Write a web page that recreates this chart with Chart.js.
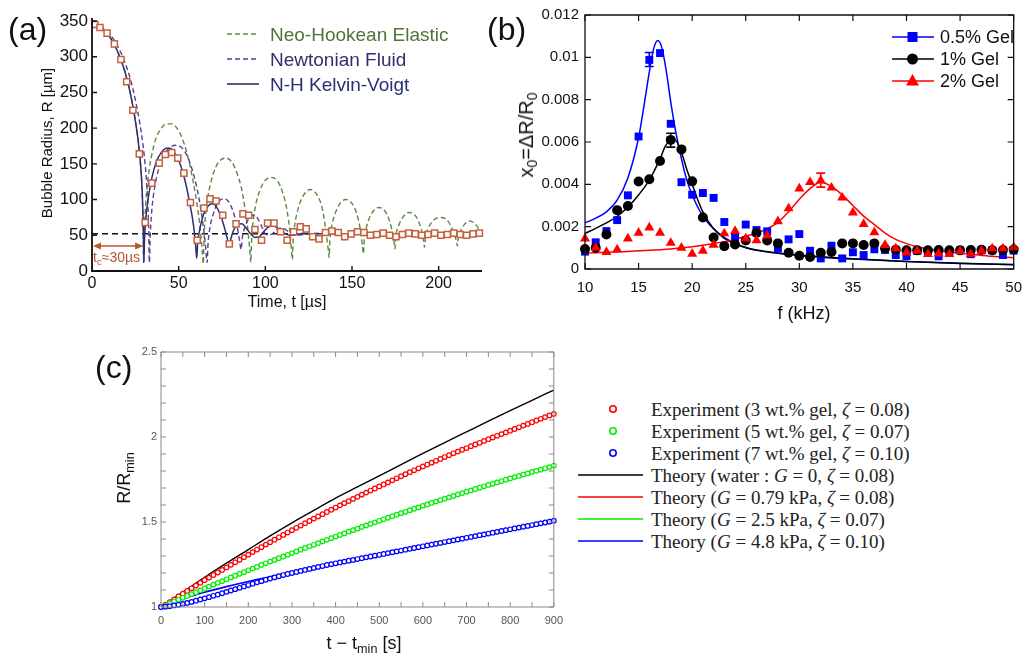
<!DOCTYPE html>
<html lang="en">
<head>
<meta charset="UTF-8">
<title>Bubble dynamics in gels</title>
<script src="https://cdn.jsdelivr.net/npm/chart.js@4.4.1/dist/chart.umd.min.js"></script>
<style>
  body { margin: 0; background: #fff; }
  #fig { position: relative; width: 1032px; height: 654px; overflow: hidden;
         font-family: 'Liberation Sans', Arial, sans-serif; color: #111; }
  canvas { position: absolute; }
  .lbl { position: absolute; white-space: nowrap; line-height: 1; }
  .panel { font-size: 32px; }
  .mid { transform: translateY(-50%); }
  .ctr { transform: translate(-50%, -50%); }
  .rot { transform: translate(-50%, -50%) rotate(-90deg); }
  .serif { font-family: 'Liberation Serif', 'Times New Roman', serif; font-size: 19px; color: #222; }
  sub { font-size: 70%; vertical-align: -0.28em; line-height: 0; }
</style>
</head>
<body>
<div id="fig">
  <canvas id="ca" width="490" height="320" style="left:0;top:0"></canvas>
  <canvas id="cb" width="542" height="320" style="left:490px;top:0"></canvas>
  <canvas id="cc" width="480" height="324" style="left:90px;top:330px"></canvas>

  <!-- panel (a) text -->
  <div class="lbl panel" style="left:8px;top:13px">(a)</div>
  <div class="lbl rot" style="left:46px;top:143px;font-size:15px">Bubble Radius, R [µm]</div>
  <div class="lbl ctr" style="left:287px;top:302px;font-size:16px">Time, t [µs]</div>
  <svg class="lbl" style="left:226px;top:26px" width="36" height="66">
    <line x1="1" y1="8" x2="33" y2="8" stroke="#5b8a42" stroke-width="1.6" stroke-dasharray="5,3"/>
    <line x1="1" y1="33" x2="33" y2="33" stroke="#5c3d99" stroke-width="1.6" stroke-dasharray="5,3"/>
    <line x1="1" y1="58" x2="33" y2="58" stroke="#2b2f73" stroke-width="1.6"/>
  </svg>
  <div class="lbl mid" style="left:270px;top:34px;font-size:19px;color:#4d7535">Neo-Hookean Elastic</div>
  <div class="lbl mid" style="left:270px;top:59px;font-size:19px;color:#3d2a6e">Newtonian Fluid</div>
  <div class="lbl mid" style="left:270px;top:84px;font-size:19px;color:#283072">N-H Kelvin-Voigt</div>
  <div class="lbl mid" style="left:93px;top:257px;font-size:14px;color:#b4552f">t<sub>c</sub>≈30µs</div>

  <!-- panel (b) text -->
  <div class="lbl panel" style="left:487px;top:13px">(b)</div>
  <div class="lbl rot" style="left:526px;top:135px;font-size:20px">x<sub>0</sub>=ΔR/R<sub>0</sub></div>
  <div class="lbl ctr" style="left:804px;top:313px;font-size:18px">f (kHz)</div>
  <svg class="lbl" style="left:890px;top:26px" width="46" height="66">
    <line x1="2" y1="11" x2="44" y2="11" stroke="#0000ff" stroke-width="1.6"/>
    <rect x="17.5" y="6" width="10" height="10" fill="#0000ff"/>
    <line x1="2" y1="33" x2="44" y2="33" stroke="#000" stroke-width="1.6"/>
    <circle cx="22.5" cy="33" r="5.5" fill="#000"/>
    <line x1="2" y1="55" x2="44" y2="55" stroke="#ff0000" stroke-width="1.6"/>
    <polygon points="22.5,48 16,59.5 29,59.5" fill="#ff0000"/>
  </svg>
  <div class="lbl mid" style="left:940px;top:37px;font-size:18px">0.5% Gel</div>
  <div class="lbl mid" style="left:940px;top:59px;font-size:18px">1% Gel</div>
  <div class="lbl mid" style="left:940px;top:81px;font-size:18px">2% Gel</div>

  <!-- panel (c) text -->
  <div class="lbl panel" style="left:95px;top:351px">(c)</div>
  <div class="lbl rot" style="left:124px;top:478px;font-size:18px">R/R<sub>min</sub></div>
  <div class="lbl ctr" style="left:364px;top:643px;font-size:18px">t − t<sub>min</sub> [s]</div>
  <svg class="lbl" style="left:570px;top:398px" width="80" height="154">
    <circle cx="43" cy="11" r="3.2" fill="none" stroke="#ff0000" stroke-width="1.6"/>
    <circle cx="43" cy="33" r="3.2" fill="none" stroke="#00ee00" stroke-width="1.6"/>
    <circle cx="43" cy="55" r="3.2" fill="none" stroke="#0000ff" stroke-width="1.6"/>
    <line x1="8" y1="77" x2="73" y2="77" stroke="#000" stroke-width="1.6"/>
    <line x1="8" y1="99" x2="73" y2="99" stroke="#ff0000" stroke-width="1.6"/>
    <line x1="8" y1="121" x2="73" y2="121" stroke="#00ee00" stroke-width="1.6"/>
    <line x1="8" y1="143" x2="73" y2="143" stroke="#0000ff" stroke-width="1.6"/>
  </svg>
  <div class="lbl mid serif" style="left:651px;top:409px">Experiment (3 wt.% gel, <i>ζ</i> = 0.08)</div>
  <div class="lbl mid serif" style="left:651px;top:431px">Experiment (5 wt.% gel, <i>ζ</i> = 0.07)</div>
  <div class="lbl mid serif" style="left:651px;top:453px">Experiment (7 wt.% gel, <i>ζ</i> = 0.10)</div>
  <div class="lbl mid serif" style="left:651px;top:475px">Theory (water : <i>G</i> = 0, <i>ζ</i> = 0.08)</div>
  <div class="lbl mid serif" style="left:651px;top:497px">Theory (<i>G</i> = 0.79 kPa, <i>ζ</i> = 0.08)</div>
  <div class="lbl mid serif" style="left:651px;top:519px">Theory (<i>G</i> = 2.5 kPa, <i>ζ</i> = 0.07)</div>
  <div class="lbl mid serif" style="left:651px;top:541px">Theory (<i>G</i> = 4.8 kPa, <i>ζ</i> = 0.10)</div>
</div>

<script>
// ---------- panel (a): bubble radius vs time, [t µs, R µm] ----------
const aTickX = [0, 50, 100, 150, 200];
const aTickY = [0, 50, 100, 150, 200, 250, 300, 350];

const aExperiment = [[1.7,345],[4.6,341],[8.7,333],[12.9,318],[16.7,296],[20,265],[23.6,225],[27.3,164],
  [30.7,68],[34.5,123],[38.8,151],[42.3,163],[46,166],[49.5,158],[53,137],[56.8,96],[60.7,43],
  [64.6,88],[68.1,101],[71.6,98],[75.4,78],[79.2,38],[83.1,66],[87.1,80],[90.4,78],[94,58],[97.8,43],
  [101.3,67],[105,67],[108.8,55],[112.6,43],[116.3,55],[120.2,62],[123.6,59],[127.3,48],[131,45],
  [134.7,54],[138.4,56],[142.1,54],[145.8,48],[149.5,52],[153.2,55],[156.9,54],[160.6,50],[164.3,51],
  [168,53],[171.7,50],[175.4,48],[179.1,51],[182.8,53],[186.5,52],[190.2,50],[193.9,51],[197.6,53],
  [201.3,50],[205,51],[208.7,53],[212.4,51],[216.1,50],[219.8,52],[223.5,53]];

const aKelvinVoigt = [[0,345],[4,342],[8,334],[12,321],[16,300],[19,279],[22,250],[24.5,218],[26.5,185],
  [28,150],[29,110],[29.6,60],[29.9,12],[30.3,45],[31,72],[32.5,103],[34.5,130],[37,152],[40,166],[43,172],
  [45,172],[47.5,166],[50,155],[53,133],[56,100],[58.5,65],[59.8,35],[60.4,18],[61,40],[62.5,62],[64.5,80],
  [67,91],[69.5,94],[72,89],[74.5,76],[76.5,60],[78,46],[79,37],[80,44],[81.5,56],[84,65],[86.5,66],
  [89,60],[91.5,52],[94,47],[96.5,48],[99,55],[102,62],[105,63],[108,58],[111,53],[114,50],[118,51],
  [122,53],[127,52],[135,52],[225,52]];

const aNeoHookean = [[0,345],[4,342],[8,334],[12,321],[16,300],[19,279],[22,250],[24.5,218],[26.5,185],
  [28,148],[29,105],[29.5,55],[29.8,10],[30.3,60],[31,95],[32.5,133],[34.5,163],[37,186],[40,200],[43,206],
  [46,206],[49,200],[52,186],[55,163],[58,130],[60.5,95],[62.5,58],[63.7,25],[64.2,10],
  [64.7,50],[65.5,78],[67,106],[69,128],[71.5,146],[74.5,156],[77.5,158],[80.5,153],[83.5,138],[86,118],
  [88,92],[89.8,60],[91,30],[91.6,12],[92.1,45],[93,70],[94.5,93],[97,114],[100,127],[103.5,131],[107,126],
  [110,110],[112.5,85],[114.3,52],[115.2,25],[115.6,16],[116.1,45],[117,65],[119,88],[122,106],[126,114],
  [130,106],[133,86],[135,55],[136.3,30],[136.8,19],[137.3,45],[138.5,65],[141,85],[143.5,96],[146.5,100],
  [149.5,96],[152.5,82],[154.8,58],[156,35],[156.6,24],[157.1,45],[158.5,63],[161,79],[165.5,89],[170,80],
  [172.8,60],[174.2,42],[174.8,31],[175.3,48],[177,64],[179.5,76],[183,82],[187,76],[190,58],[191.3,42],
  [191.8,33],[192.4,48],[194,60],[197,71],[201,75],[205,71],[208.3,56],[210.2,42],[210.8,35],[211.4,48],
  [213,58],[215.5,67],[218,70],[221,66],[223.5,58],[225,52]];

const aNewtonian = [[0,345],[4,343],[8,337],[12,326],[16,309],[19,292],[22,270],[25,240],[27.5,208],
  [29.5,175],[31,140],[32,105],[32.7,60],[33.1,12],[33.6,50],[34.5,85],[36,115],[38.5,143],[41.5,162],
  [45,173],[48.5,176],[52,172],[55.5,158],[58.5,136],[61.5,105],[63.8,70],[65.5,35],[66.4,12],[67,40],
  [68,60],[70,80],[72.5,95],[75.5,101],[78.5,98],[81,86],[83.5,65],[85.2,42],[86,30],[86.8,48],[88.5,63],
  [91,75],[93.5,78],[96,72],[98.3,60],[100,52],[102,50],[105,54],[108,60],[111,59],[114,54],[118,50],
  [122,51],[128,53],[135,52],[225,52]];

const aEquilibrium = [[0, 52], [225, 52]];
const aArrowSpan = [0, 29.5];   // t_c arrow, µs
const aArrowR = 35;

// ---------- panel (b): amplitude vs frequency ----------
const bFreq = [10,11,12,13,14,15,16,17,18,19,20,21,22,23,24,25,26,27,28,29,30,
               31,32,33,34,35,36,37,38,39,40,41,42,43,44,45,46,47,48,49,50];
const bGel05 = [0.00082,0.00126,0.00179,0.00231,0.00348,0.00626,0.00988,0.01020,0.00686,0.00410,0.00351,
  0.00359,0.00336,0.00222,0.00150,0.00210,0.00184,0.00178,0.00097,0.00140,0.00165,0.00086,0.00050,0.00110,
  0.00050,0.00079,0.00066,0.00093,0.00090,0.00066,0.00061,0.00085,0.00080,0.00060,0.00080,0.00088,0.00070,
  0.00088,0.00088,0.00066,0.00087];
const bGel1 = [0.00094,0.00100,0.00163,0.00278,0.00298,0.00413,0.00424,0.00510,0.00610,0.00565,0.00414,
  0.00243,0.00149,0.00108,0.00116,0.00135,0.00170,0.00135,0.00121,0.00077,0.00063,0.00057,0.00077,0.00080,
  0.00121,0.00121,0.00113,0.00121,0.00097,0.00091,0.00089,0.00088,0.00089,0.00090,0.00089,0.00088,0.00090,
  0.00091,0.00089,0.00090,0.00092];
const bGel2 = [0.00144,0.00100,0.00080,0.00092,0.00144,0.00171,0.00196,0.00171,0.00123,0.00100,0.00072,
  0.00086,0.00114,0.00168,0.00179,0.00144,0.00135,0.00158,0.00225,0.00286,0.00380,0.00410,0.00418,0.00384,
  0.00337,0.00267,0.00212,0.00173,0.00113,0.00097,0.00078,0.00086,0.00070,0.00073,0.00070,0.00085,0.00070,
  0.00086,0.00097,0.00097,0.00102];

const bFitF05 = [10,11,12,13,14,15,15.5,16,16.4,16.8,17.2,17.6,18,18.5,19,19.5,20,21,22,23,24,25,26,28,30,32,35,40,45,50];
const bFit05 = [0.00218,0.0024,0.0027,0.00325,0.0043,0.0062,0.0077,0.0093,0.0104,0.0108,0.0104,0.0093,0.0079,
  0.0064,0.0052,0.0042,0.0035,0.0025,0.0019,0.0015,0.00122,0.0010,0.00088,0.00074,0.00064,0.00056,0.00047,
  0.00035,0.00026,0.0002];
const bFitF1 = [10,11,12,13,14,15,16,17,17.5,18,18.4,19,19.5,20,20.5,21,22,23,24,25,26,28,30,32,35,40,45,50];
const bFit1 = [0.00168,0.00192,0.00218,0.00248,0.00293,0.0035,0.0042,0.0052,0.0058,0.0061,0.0061,0.0055,0.0047,
  0.0040,0.0033,0.0027,0.0019,0.00145,0.00118,0.00102,0.0009,0.00076,0.00066,0.00058,0.00048,0.00036,
  0.00027,0.00021];
const bFitF2 = [10,12,14,16,18,20,22,24,25,26,27,28,29,30,31,32,33,34,35,36,37,38,39,40,41,42,44,46,48,50];
const bFit2 = [0.00075,0.00079,0.00083,0.00088,0.00095,0.00105,0.0012,0.0014,0.00155,0.0017,0.0019,0.0022,
  0.0027,0.0033,0.0038,0.0041,0.0039,0.0035,0.0030,0.0025,0.0021,0.0017,0.0014,0.0012,0.00105,0.00095,
  0.0008,0.0007,0.0006,0.00053];

const bErrF = [16, 18, 32];
const bErrLo = [0.00957, 0.00576, 0.00387];
const bErrHi = [0.01023, 0.00641, 0.00453];
const bTickX = [10, 15, 20, 25, 30, 35, 40, 45, 50];
const bTickY = [0, 0.002, 0.004, 0.006, 0.008, 0.01, 0.012];

// ---------- panel (c): R/Rmin vs t - tmin ----------
const cT = [0,10,20,30,40,50,60,70,80,90,100,110,120,130,140,150,160,170,180,190,200,210,220,230,240,250,
  260,270,280,290,300,310,320,330,340,350,360,370,380,390,400,410,420,430,440,450,460,470,480,490,500,
  510,520,530,540,550,560,570,580,590,600,610,620,630,640,650,660,670,680,690,700,710,720,730,740,750,
  760,770,780,790,800,810,820,830,840,850,860,870,880,890,900];
const cExp3 = [1.000,1.014,1.029,1.045,1.062,1.078,1.094,1.110,1.126,1.142,
  1.158,1.173,1.188,1.203,1.218,1.233,1.248,1.263,1.278,1.293,
  1.308,1.323,1.338,1.352,1.367,1.381,1.396,1.410,1.424,1.438,
  1.452,1.466,1.479,1.493,1.506,1.520,1.533,1.546,1.559,1.572,
  1.585,1.598,1.611,1.623,1.636,1.648,1.661,1.673,1.685,1.697,
  1.709,1.721,1.733,1.745,1.757,1.769,1.781,1.793,1.804,1.816,
  1.827,1.838,1.849,1.860,1.871,1.882,1.893,1.904,1.914,1.925,
  1.935,1.946,1.956,1.966,1.977,1.987,1.997,2.007,2.017,2.027,
  2.037,2.047,2.057,2.067,2.077,2.087,2.097,2.107,2.117,2.127,2.136];
const cExp5 = [1.000,1.010,1.021,1.032,1.043,1.054,1.065,1.076,1.087,1.098,
  1.109,1.120,1.131,1.142,1.152,1.163,1.174,1.184,1.195,1.205,
  1.216,1.226,1.236,1.247,1.257,1.267,1.277,1.287,1.297,1.307,
  1.317,1.327,1.337,1.347,1.357,1.366,1.376,1.386,1.395,1.405,
  1.414,1.424,1.433,1.443,1.452,1.461,1.471,1.480,1.489,1.498,
  1.507,1.516,1.525,1.534,1.543,1.552,1.560,1.569,1.578,1.586,
  1.595,1.603,1.612,1.620,1.629,1.637,1.645,1.653,1.662,1.670,
  1.678,1.686,1.694,1.702,1.710,1.718,1.725,1.733,1.741,1.749,
  1.756,1.764,1.771,1.779,1.786,1.794,1.801,1.808,1.816,1.823,1.832];
const cExp7 = [1.000,1.002,1.005,1.009,1.013,1.018,1.024,1.030,1.037,1.044,
  1.051,1.058,1.066,1.073,1.081,1.089,1.097,1.105,1.113,1.121,
  1.129,1.137,1.145,1.152,1.160,1.167,1.174,1.181,1.188,1.194,
  1.200,1.206,1.212,1.218,1.224,1.230,1.236,1.241,1.247,1.252,
  1.257,1.262,1.267,1.272,1.277,1.282,1.287,1.292,1.297,1.302,
  1.307,1.312,1.317,1.322,1.327,1.332,1.337,1.342,1.347,1.352,
  1.357,1.362,1.367,1.372,1.377,1.382,1.387,1.392,1.397,1.402,
  1.407,1.412,1.417,1.422,1.427,1.432,1.437,1.442,1.447,1.452,
  1.457,1.462,1.467,1.472,1.477,1.482,1.487,1.492,1.497,1.502,1.508];

const cFitT = [0,50,100,150,200,250,300,350,400,450,500,550,600,650,700,750,800,850,900];
const cWater = [1,1.088,1.175,1.258,1.338,1.418,1.495,1.568,1.64,1.706,1.772,1.838,1.903,1.967,2.03,2.093,2.155,2.216,2.276];
const cFit3 = [1,1.078,1.158,1.233,1.308,1.381,1.452,1.52,1.585,1.648,1.709,1.769,1.827,1.882,1.935,1.987,2.037,2.087,2.136];
const cFit5 = [1,1.054,1.109,1.163,1.216,1.267,1.317,1.366,1.414,1.461,1.507,1.552,1.595,1.637,1.678,1.718,1.756,1.794,1.832];
const cFit7 = [1,1.048,1.087,1.12,1.15,1.178,1.203,1.228,1.253,1.279,1.305,1.331,1.357,1.383,1.408,1.434,1.459,1.484,1.509];

const cLabelX = [0,100,200,300,400,500,600,700,800,900];
const cLabelY = [1, 1.5, 2, 2.5];
const cMarkX = [0,50,100,150,200,250,300,350,400,450,500,550,600,650,700,750,800,850,900];
const cMarkY = [1,1.1,1.2,1.3,1.4,1.5,1.6,1.7,1.8,1.9,2,2.1,2.2,2.3,2.4,2.5];

// ---------- helpers ----------
const FONT = "'Liberation Sans', Arial, sans-serif";
const pairs = a => a.map(([x, y]) => ({ x, y }));
const pts = (xs, ys) => xs.map((x, i) => ({ x, y: ys[i] }));

// axis lines / box with inward tick marks, placed through the chart's scales
const framePlugin = {
  id: 'frame',
  afterDatasetsDraw(chart, args, o) {
    const { ctx, chartArea: a } = chart;
    const sx = chart.scales.x, sy = chart.scales.y;
    ctx.save();
    ctx.strokeStyle = o.color;
    ctx.lineWidth = o.lineWidth;
    ctx.beginPath();
    if (o.box) {
      ctx.rect(a.left, a.top, a.right - a.left, a.bottom - a.top);
    } else {
      ctx.moveTo(a.left, a.top - 3);
      ctx.lineTo(a.left, a.bottom);
      ctx.lineTo(a.right, a.bottom);
    }
    ctx.stroke();
    ctx.lineWidth = o.tickWidth;
    ctx.beginPath();
    o.xMarks.forEach(v => {
      const p = sx.getPixelForValue(v);
      ctx.moveTo(p, a.bottom); ctx.lineTo(p, a.bottom - o.len);
      if (o.box) { ctx.moveTo(p, a.top); ctx.lineTo(p, a.top + o.len); }
    });
    o.yMarks.forEach(v => {
      const p = sy.getPixelForValue(v);
      ctx.moveTo(a.left, p); ctx.lineTo(a.left + o.len, p);
      if (o.box) { ctx.moveTo(a.right, p); ctx.lineTo(a.right - o.len, p); }
    });
    ctx.stroke();
    ctx.restore();
  }
};

function makeOptions(o) {
  const tick = (size, pad, color) => ({
    padding: pad, color: color, autoSkip: false, maxRotation: 0,
    font: { family: FONT, size: size }, callback: v => String(v)
  });
  return {
    responsive: false, animation: false, events: [],
    layout: { padding: { top: o.top, right: o.right, left: 0, bottom: 0 } },
    plugins: { legend: { display: false }, tooltip: { enabled: false }, frame: o.frame },
    scales: {
      x: {
        type: 'linear', min: o.xMin, max: o.xMax,
        grid: { display: false, drawTicks: false }, border: { display: false },
        afterFit: s => { s.height = o.xH; },
        afterBuildTicks: s => { s.ticks = o.xTicks.map(v => ({ value: v })); },
        ticks: tick(o.xFont, o.xPad, o.tickColor)
      },
      y: {
        type: 'linear', min: o.yMin, max: o.yMax,
        grid: { display: false, drawTicks: false }, border: { display: false },
        afterFit: s => { s.width = o.yW; },
        afterBuildTicks: s => { s.ticks = o.yTicks.map(v => ({ value: v })); },
        ticks: tick(o.yFont, o.yPad, o.tickColor)
      }
    }
  };
}

const line = (data, color, width, dash) => ({
  data, showLine: true, borderColor: color, borderWidth: width, borderDash: dash || [],
  pointRadius: 0, fill: false, cubicInterpolationMode: 'monotone', clip: false
});
const marks = (data, style, r, color, fillColor, width) => ({
  data, showLine: false, pointStyle: style, pointRadius: r, borderColor: color,
  backgroundColor: fillColor, borderWidth: width, clip: false
});

// ---------- chart (a) ----------
const arrowPlugin = {
  id: 'collapseArrow',
  afterDatasetsDraw(chart) {
    const { ctx } = chart;
    const sx = chart.scales.x, sy = chart.scales.y;
    const x0 = sx.getPixelForValue(aArrowSpan[0]) + 1, x1 = sx.getPixelForValue(aArrowSpan[1]);
    const y = sy.getPixelForValue(aArrowR);
    ctx.save();
    ctx.strokeStyle = '#b4552f'; ctx.fillStyle = '#b4552f'; ctx.lineWidth = 1.6;
    ctx.beginPath(); ctx.moveTo(x0 + 4, y); ctx.lineTo(x1 - 4, y); ctx.stroke();
    ctx.beginPath(); ctx.moveTo(x0, y); ctx.lineTo(x0 + 8, y - 3.5); ctx.lineTo(x0 + 8, y + 3.5); ctx.closePath(); ctx.fill();
    ctx.beginPath(); ctx.moveTo(x1, y); ctx.lineTo(x1 - 8, y - 3.5); ctx.lineTo(x1 - 8, y + 3.5); ctx.closePath(); ctx.fill();
    ctx.restore();
  }
};

new Chart(document.getElementById('ca'), {
  type: 'scatter',
  data: {
    datasets: [
      marks(pairs(aExperiment), 'rect', 4.3, '#c4603f', '#ffffff', 1.5),
      line(pairs(aKelvinVoigt), '#2b2f73', 1.5),
      line(pairs(aNewtonian), '#5c3d99', 1.4, [5, 3]),
      line(pairs(aNeoHookean), '#5b8a42', 1.4, [5, 3]),
      line(pairs(aEquilibrium), '#111111', 1.5, [6, 4])
    ]
  },
  options: makeOptions({
    top: 21, right: 8, xH: 49, yW: 92,
    xMin: 0, xMax: 225, yMin: 0, yMax: 350, xTicks: aTickX, yTicks: aTickY,
    xFont: 16, yFont: 17, xPad: 3, yPad: 4, tickColor: '#111',
    frame: { box: false, color: '#111', lineWidth: 1.8, tickWidth: 1.4, len: 5, xMarks: aTickX, yMarks: aTickY }
  }),
  plugins: [framePlugin, arrowPlugin]
});

// ---------- chart (b) ----------
const errorBarPlugin = {
  id: 'errorBars',
  afterDatasetsDraw(chart) {
    const { ctx } = chart;
    const sx = chart.scales.x, sy = chart.scales.y;
    const colors = ['#0000ff', '#000000', '#ff0000'];
    ctx.save();
    ctx.lineWidth = 1.6;
    bErrF.forEach((f, i) => {
      const x = sx.getPixelForValue(f), lo = sy.getPixelForValue(bErrLo[i]), hi = sy.getPixelForValue(bErrHi[i]);
      ctx.strokeStyle = colors[i];
      ctx.beginPath();
      ctx.moveTo(x, lo); ctx.lineTo(x, hi);
      ctx.moveTo(x - 4.5, lo); ctx.lineTo(x + 4.5, lo);
      ctx.moveTo(x - 4.5, hi); ctx.lineTo(x + 4.5, hi);
      ctx.stroke();
    });
    ctx.restore();
  }
};

new Chart(document.getElementById('cb'), {
  type: 'scatter',
  data: {
    datasets: [
      marks(pts(bFreq, bGel2), 'triangle', 5.8, '#ff0000', '#ff0000', 0),
      marks(pts(bFreq, bGel1), 'circle', 5, '#000000', '#000000', 0),
      marks(pts(bFreq, bGel05), 'rect', 5.6, '#0000ff', '#0000ff', 0),
      line(pts(bFitF2, bFit2), '#ff0000', 1.5),
      line(pts(bFitF1, bFit1), '#000000', 1.5),
      line(pts(bFitF05, bFit05), '#0000ff', 1.5)
    ]
  },
  options: makeOptions({
    top: 14, right: 10, xH: 51, yW: 95,
    xMin: 10, xMax: 50, yMin: 0, yMax: 0.012, xTicks: bTickX, yTicks: bTickY,
    xFont: 15, yFont: 15, xPad: 10, yPad: 6, tickColor: '#111',
    frame: { box: true, color: '#111', lineWidth: 1.3, tickWidth: 1.2, len: 6, xMarks: bTickX, yMarks: bTickY }
  }),
  plugins: [framePlugin, errorBarPlugin]
});

// ---------- chart (c) ----------
new Chart(document.getElementById('cc'), {
  type: 'scatter',
  data: {
    datasets: [
      marks(pts(cT, cExp7), 'circle', 2.3, '#0000ff', '#ffffff', 1.2),
      marks(pts(cT, cExp5), 'circle', 2.3, '#00ee00', '#ffffff', 1.2),
      marks(pts(cT, cExp3), 'circle', 2.3, '#ff0000', '#ffffff', 1.2),
      line(pts(cFitT, cWater), '#000000', 1.4),
      line(pts(cFitT, cFit3), '#ff0000', 1.6),
      line(pts(cFitT, cFit5), '#00ee00', 1.6),
      line(pts(cFitT, cFit7), '#0000ff', 1.6)
    ]
  },
  options: makeOptions({
    top: 22, right: 13, xH: 47, yW: 71,
    xMin: 0, xMax: 900, yMin: 1, yMax: 2.5, xTicks: cLabelX, yTicks: cLabelY,
    xFont: 11, yFont: 11, xPad: 7, yPad: 4, tickColor: '#555',
    frame: { box: true, color: '#8a8a8a', lineWidth: 1, tickWidth: 1, len: 5, xMarks: cMarkX, yMarks: cMarkY }
  }),
  plugins: [framePlugin]
});
</script>
</body>
</html>
